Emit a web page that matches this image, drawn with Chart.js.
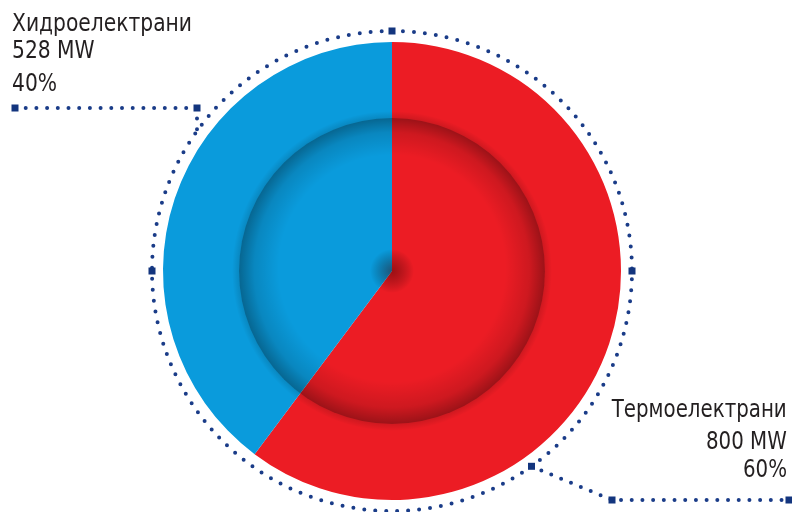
<!DOCTYPE html>
<html>
<head>
<meta charset="utf-8">
<script src="https://cdn.jsdelivr.net/npm/chart.js@4/dist/chart.umd.min.js"></script>
<style>
  html, body { margin: 0; padding: 0; background: #fff; }
  #wrap { position: relative; width: 792px; height: 512px; overflow: hidden; }
  canvas { position: absolute; left: 0; top: 0; }
  .lbl { position: absolute; font-family: 'DejaVu Sans Condensed', 'Liberation Sans Narrow', sans-serif;
         font-size: 25px; line-height: 30px; color: #231f20; white-space: nowrap; }
  .l { transform-origin: 0 50%; }
  .r { text-align: right; transform-origin: 100% 50%; }
</style>
</head>
<body>
<div id="wrap">
  <canvas id="c" width="792" height="512"></canvas>
  <div class="lbl l" id="l0" style="left:12px; top:8px;"></div>
  <div class="lbl l" id="l1" style="left:12px; top:35px;"></div>
  <div class="lbl l" id="l2" style="left:12px; top:68px;"></div>
  <div class="lbl r" id="r0" style="right:5px; top:394px;"></div>
  <div class="lbl r" id="r1" style="right:5px; top:426px;"></div>
  <div class="lbl r" id="r2" style="right:5px; top:454px;"></div>
</div>
<script>
// ---- data ----
const categories = ['Термоелектрани', 'Хидроелектрани'];
const capacityMW = [800, 528];
const percentLabels = ['60%', '40%'];
const sliceColors = ['#ec1c24', '#0a9bdc'];

// labels (real text)
const ids = { l: ['l0', 'l1', 'l2'], r: ['r0', 'r1', 'r2'] };
document.getElementById('l0').textContent = categories[1];
document.getElementById('l1').textContent = capacityMW[1] + ' MW';
document.getElementById('l2').textContent = percentLabels[1];
document.getElementById('r0').textContent = categories[0];
document.getElementById('r1').textContent = capacityMW[0] + ' MW';
document.getElementById('r2').textContent = percentLabels[0];

function condense(list, targetW) {
  const w = document.getElementById(list[0]).getBoundingClientRect().width;
  const s = Math.min(1, targetW / w);
  list.forEach(id => { document.getElementById(id).style.transform = 'scaleX(' + s + ')'; });
}
condense(ids.l, 180);
condense(ids.r, 175);

const NAVY = '#1a3c88';

function dotPath(ctx, pts, spacing) {
  ctx.save();
  ctx.strokeStyle = NAVY;
  ctx.lineWidth = 4;
  ctx.lineCap = 'round';
  ctx.setLineDash([0, spacing]);
  ctx.beginPath();
  ctx.moveTo(pts[0][0], pts[0][1]);
  for (let i = 1; i < pts.length; i++) ctx.lineTo(pts[i][0], pts[i][1]);
  ctx.stroke();
  ctx.restore();
}
function sq(ctx, x, y) {
  ctx.fillStyle = '#13357e';
  ctx.fillRect(x - 3.5, y - 3.5, 7, 7);
}

const decor = {
  id: 'decor',
  afterDatasetsDraw(chart) {
    const ctx = chart.ctx;
    const arc = chart.getDatasetMeta(0).data[0];
    const cx = arc.x, cy = arc.y, R = arc.outerRadius;
    const ri = R * 0.668;

    // inner disc shading
    ctx.save();
    ctx.beginPath();
    ctx.arc(cx, cy, ri, 0, Math.PI * 2);
    ctx.clip();
    const g = ctx.createRadialGradient(cx, cy - 10, 0, cx, cy, ri);
    g.addColorStop(0, 'rgba(0,0,0,0)');
    g.addColorStop(0.74, 'rgba(0,0,0,0.0)');
    g.addColorStop(0.9, 'rgba(0,0,0,0.13)');
    g.addColorStop(1, 'rgba(0,0,0,0.34)');
    ctx.fillStyle = g;
    ctx.fillRect(cx - ri, cy - ri, ri * 2, ri * 2);
    ctx.restore();

    // soft outer rim of inner disc
    ctx.save();
    const g2 = ctx.createRadialGradient(cx, cy, ri, cx, cy, ri + 7);
    g2.addColorStop(0, 'rgba(0,0,0,0.12)');
    g2.addColorStop(1, 'rgba(0,0,0,0)');
    ctx.beginPath();
    ctx.arc(cx, cy, ri + 7, 0, Math.PI * 2);
    ctx.arc(cx, cy, ri, 0, Math.PI * 2, true);
    ctx.fillStyle = g2;
    ctx.fill();
    ctx.restore();

    // center dark spot
    ctx.save();
    const g3 = ctx.createRadialGradient(cx, cy, 0, cx, cy, 22);
    g3.addColorStop(0, 'rgba(60,0,0,0.45)');
    g3.addColorStop(1, 'rgba(0,0,0,0)');
    ctx.fillStyle = g3;
    ctx.beginPath();
    ctx.arc(cx, cy, 22, 0, Math.PI * 2);
    ctx.fill();
    ctx.restore();

    // dotted ring
    const rd = R + 11;
    ctx.save();
    ctx.strokeStyle = NAVY;
    ctx.lineWidth = 4;
    ctx.lineCap = 'round';
    ctx.setLineDash([0, 2 * Math.PI * rd / 137]);
    ctx.beginPath();
    ctx.arc(cx, cy, rd, -Math.PI / 2, Math.PI * 1.5);
    ctx.stroke();
    ctx.restore();
    sq(ctx, cx, cy - rd);
    sq(ctx, cx - rd, cy);
    sq(ctx, cx + rd, cy);

    // left leader
    const yL = 108, xL = 197;
    const yC = cy - Math.sqrt(rd * rd - (cx - xL) * (cx - xL));
    dotPath(ctx, [[15, yL], [xL, yL], [xL, yC]], 10.7);
    sq(ctx, 15, yL);
    sq(ctx, xL, yL);

    // right leader
    const a = Math.atan2(467 - cy, 532 - cx);
    const px = cx + rd * Math.cos(a), py = cy + rd * Math.sin(a);
    dotPath(ctx, [[px, py], [612, 500], [789, 500]], 10.7);
    sq(ctx, px, py);
    sq(ctx, 612, 500);
    sq(ctx, 789, 500);
  }
};

new Chart(document.getElementById('c'), {
  type: 'pie',
  data: {
    labels: categories,
    datasets: [{
      data: capacityMW,
      backgroundColor: sliceColors,
      borderWidth: 0,
      hoverOffset: 0
    }]
  },
  options: {
    responsive: false,
    animation: false,
    events: [],
    layout: { padding: { top: 42, bottom: 12, left: 163, right: 171 } },
    plugins: { legend: { display: false }, tooltip: { enabled: false } }
  },
  plugins: [decor]
});
</script>
</body>
</html>
